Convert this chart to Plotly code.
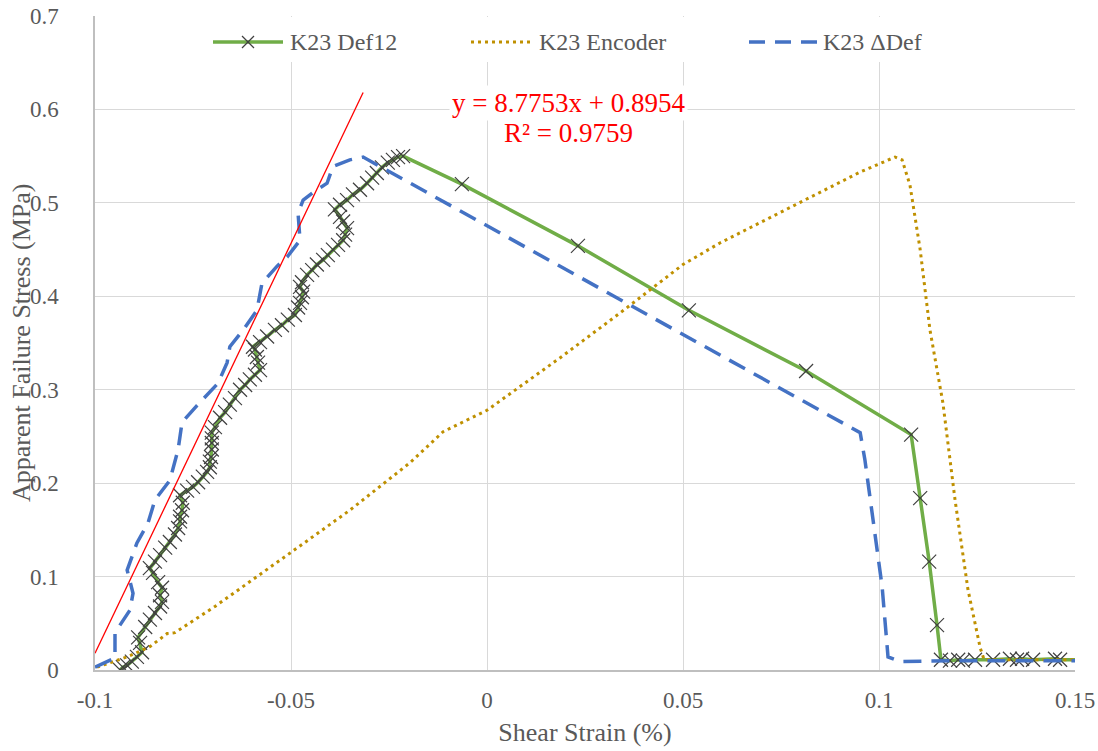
import plotly.graph_objects as go

# ---------------- data ----------------
def12_x = [-0.0936, -0.0929, -0.0918, -0.0906, -0.0893, -0.0880, -0.0885, -0.0890, -0.0872, -0.0860,
           -0.0847, -0.0834, -0.0829, -0.0834, -0.0829, -0.0839, -0.0852, -0.0860, -0.0847, -0.0834,
           -0.0821, -0.0809, -0.0796, -0.0788, -0.0783, -0.0783, -0.0778, -0.0776, -0.0783, -0.0765,
           -0.0750, -0.0737, -0.0725, -0.0714, -0.0707, -0.0707, -0.0704, -0.0702, -0.0702, -0.0702,
           -0.0702, -0.0694, -0.0681, -0.0668, -0.0656, -0.0643, -0.0630, -0.0617, -0.0605, -0.0592,
           -0.0579, -0.0584, -0.0587, -0.0592, -0.0597, -0.0579, -0.0561, -0.0541, -0.0523, -0.0508,
           -0.0490, -0.0482, -0.0477, -0.0472, -0.0469, -0.0477, -0.0472, -0.0459, -0.0446, -0.0434,
           -0.0418, -0.0406, -0.0393, -0.0380, -0.0367, -0.0362, -0.0357, -0.0367, -0.0375, -0.0388,
           -0.0375, -0.0357, -0.0342, -0.0324, -0.0306, -0.0293, -0.0281, -0.0268, -0.0253, -0.0240,
           -0.0227, -0.0214,
           -0.0064, 0.0232, 0.0515, 0.0814, 0.1082, 0.1105, 0.1128, 0.1148, 0.1158,
           0.1181, 0.1202, 0.1214, 0.1245, 0.1291, 0.1334, 0.1352, 0.1365, 0.1393, 0.1449, 0.1462,
           0.1530]
def12_y = [0.000, 0.003, 0.005, 0.009, 0.014, 0.019, 0.029, 0.035, 0.046, 0.054,
           0.061, 0.068, 0.073, 0.080, 0.088, 0.094, 0.104, 0.109, 0.116, 0.123,
           0.131, 0.137, 0.145, 0.152, 0.159, 0.164, 0.171, 0.179, 0.187, 0.192,
           0.196, 0.201, 0.207, 0.212, 0.217, 0.223, 0.228, 0.236, 0.243, 0.248,
           0.254, 0.260, 0.270, 0.276, 0.284, 0.291, 0.300, 0.305, 0.311, 0.316,
           0.321, 0.329, 0.335, 0.343, 0.346, 0.351, 0.357, 0.364, 0.369, 0.375,
           0.380, 0.388, 0.393, 0.399, 0.405, 0.410, 0.415, 0.423, 0.428, 0.434,
           0.439, 0.444, 0.450, 0.455, 0.460, 0.466, 0.473, 0.480, 0.485, 0.493,
           0.498, 0.503, 0.509, 0.514, 0.521, 0.527, 0.532, 0.538, 0.543, 0.546,
           0.549, 0.550,
           0.520, 0.454, 0.385, 0.320, 0.252, 0.184, 0.116, 0.048, 0.011,
           0.010, 0.011, 0.010, 0.011, 0.011, 0.012, 0.011, 0.012, 0.011, 0.012, 0.011,
           0.011]

enc_x = [-0.0995, -0.0962, -0.0918, -0.0860, -0.0816, -0.0796, -0.0694, -0.0503, -0.0350, -0.0196,
         -0.0112, 0.0000, 0.0186, 0.0339, 0.0500, 0.0594, 0.0798, 0.0952, 0.1041, 0.1059,
         0.1079, 0.1105, 0.1130, 0.1163, 0.1194, 0.1227, 0.1258, 0.1268, 0.1530]
enc_y = [0.003, 0.008, 0.014, 0.025, 0.039, 0.040, 0.068, 0.125, 0.171, 0.222,
         0.255, 0.278, 0.334, 0.382, 0.434, 0.457, 0.500, 0.533, 0.549, 0.546,
         0.519, 0.450, 0.364, 0.286, 0.182, 0.086, 0.024, 0.011, 0.011]

ddef_x = [-0.1000, -0.0949, -0.0949, -0.0911, -0.0903, -0.0918, -0.0893, -0.0865, -0.0847, -0.0809,
          -0.0788, -0.0778, -0.0740, -0.0686, -0.0663, -0.0656, -0.0622, -0.0587, -0.0574, -0.0536,
          -0.0510, -0.0477, -0.0482, -0.0469, -0.0444, -0.0408, -0.0393, -0.0350, -0.0316,
          0.0900, 0.0952, 0.0964, 0.0990, 0.1008, 0.1023, 0.1054,
          0.1200, 0.1350, 0.1530]
ddef_y = [0.003, 0.013, 0.040, 0.064, 0.082, 0.107, 0.136, 0.157, 0.182, 0.203,
          0.236, 0.265, 0.283, 0.307, 0.329, 0.346, 0.364, 0.385, 0.414, 0.432,
          0.442, 0.460, 0.489, 0.503, 0.511, 0.521, 0.539, 0.546, 0.549,
          0.266, 0.254, 0.225, 0.147, 0.089, 0.014, 0.009,
          0.010, 0.010, 0.010]

trend_slope = 8.7753
trend_intercept = 0.8954
trend_r2 = 0.9759
trend_x_range = [-0.1, -0.0316]

series_names = ["K23 Def12", "K23 Encoder", "K23 \u0394Def"]

x_ticks = [-0.1, -0.05, 0, 0.05, 0.1, 0.15]
x_tick_labels = ["-0.1", "-0.05", "0", "0.05", "0.1", "0.15"]
y_ticks = [0, 0.1, 0.2, 0.3, 0.4, 0.5, 0.6, 0.7]
y_tick_labels = ["0", "0.1", "0.2", "0.3", "0.4", "0.5", "0.6", "0.7"]

x_title = "Shear Strain (%)"
y_title = "Apparent Failure Stress (MPa)"

# ---------------- styles ----------------
FONT = "Liberation Serif"
GRAY = "#595959"
GREEN = "#70AD47"
GOLD = "#BF9000"
BLUE = "#4472C4"
MARK = "#404040"

FIG_W, FIG_H = 1098, 751
# plot area in page pixels
L, R, T, B = 95, 1075, 16, 670

fig = go.Figure()
fig.add_trace(go.Scatter(
    x=def12_x, y=def12_y, mode="lines+markers", name=series_names[0],
    line=dict(color=GREEN, width=3.5),
    marker=dict(symbol="x-thin-open", size=14, color=MARK, line=dict(color=MARK, width=1.2)),
    showlegend=False))
fig.add_trace(go.Scatter(
    x=enc_x, y=enc_y, mode="lines", name=series_names[1],
    line=dict(color=GOLD, width=3, dash="3px,4px"), showlegend=False))
fig.add_trace(go.Scatter(
    x=ddef_x, y=ddef_y, mode="lines", name=series_names[2],
    line=dict(color=BLUE, width=3.5, dash="18px,10px"), showlegend=False))
trend_y = [trend_slope * v + trend_intercept for v in trend_x_range]
fig.add_trace(go.Scatter(
    x=trend_x_range, y=trend_y, mode="lines", line=dict(color="#FF0000", width=1.3),
    showlegend=False, hoverinfo="skip"))

# ---------------- custom legend (paper coordinates) ----------------
def px(xp):
    return (xp - L) / (R - L)
def py(yp):
    return (B - yp) / (B - T)

shapes = []
shapes.append(dict(type="rect", xref="paper", yref="paper", x0=px(200), x1=px(955),
                   y0=py(62), y1=py(17), fillcolor="white", line=dict(width=0), layer="above"))
ly = py(42)
shapes.append(dict(type="line", xref="paper", yref="paper", x0=px(213), x1=px(283), y0=ly, y1=ly,
                   line=dict(color=GREEN, width=3.5), layer="above"))
shapes.append(dict(type="line", xref="paper", yref="paper", x0=px(242), x1=px(254), y0=py(36), y1=py(48),
                   line=dict(color=MARK, width=1.2), layer="above"))
shapes.append(dict(type="line", xref="paper", yref="paper", x0=px(242), x1=px(254), y0=py(48), y1=py(36),
                   line=dict(color=MARK, width=1.2), layer="above"))
shapes.append(dict(type="line", xref="paper", yref="paper", x0=px(471), x1=px(534), y0=ly, y1=ly,
                   line=dict(color=GOLD, width=3, dash="3px,4px"), layer="above"))
shapes.append(dict(type="line", xref="paper", yref="paper", x0=px(749), x1=px(818), y0=ly, y1=ly,
                   line=dict(color=BLUE, width=3.5, dash="16px,10px"), layer="above"))

annotations = []
for xpos, name in zip([288, 537, 821], series_names):
    annotations.append(dict(xref="paper", yref="paper", x=px(xpos), y=ly, text=name, showarrow=False,
                            xanchor="left", yanchor="middle",
                            font=dict(family=FONT, size=24, color=GRAY)))

eq_lines = [f"y = {trend_slope}x + {trend_intercept}", f"R\u00b2 = {trend_r2}"]
for ypos, txt in zip([103, 133], eq_lines):
    annotations.append(dict(
        xref="paper", yref="paper", x=px(568), y=py(ypos), showarrow=False,
        xanchor="center", yanchor="middle", text=txt,
        font=dict(family=FONT, size=27, color="#FF0000"), bgcolor="white", borderpad=2))

# y-axis title as rotated annotation for exact placement
annotations.append(dict(
    xref="paper", yref="paper", x=px(21), y=0.5, showarrow=False,
    xanchor="center", yanchor="middle", textangle=-90, text=y_title,
    font=dict(family=FONT, size=26, color=GRAY)))

fig.update_layout(
    width=FIG_W, height=FIG_H,
    margin=dict(l=L, r=FIG_W - R, t=T, b=FIG_H - B, autoexpand=False),
    paper_bgcolor="white", plot_bgcolor="white",
    font=dict(family=FONT, color=GRAY),
    shapes=shapes, annotations=annotations,
    showlegend=False,
)
fig.update_xaxes(
    range=[-0.1, 0.15], tickvals=x_ticks, ticktext=x_tick_labels,
    showgrid=True, gridcolor="#D9D9D9", gridwidth=1.3, zeroline=False,
    showline=True, linecolor="#BFBFBF", linewidth=1.5,
    ticks="", ticklabelstandoff=9, ticklabeloverflow="allow",
    tickfont=dict(family=FONT, size=23, color=GRAY),
    title=dict(text=x_title, font=dict(family=FONT, size=26, color=GRAY), standoff=10),
    automargin=False,
)
fig.update_yaxes(
    range=[0, 0.7], tickvals=y_ticks, ticktext=y_tick_labels,
    showgrid=True, gridcolor="#D9D9D9", gridwidth=1.3, zeroline=False,
    showline=True, linecolor="#BFBFBF", linewidth=1.5,
    ticks="", ticklabelstandoff=30, ticklabeloverflow="allow",
    tickfont=dict(family=FONT, size=23, color=GRAY),
    automargin=False,
)

fig.write_html("out.html", config={"displayModeBar": False},
               post_script="document.body.style.margin='0px';")
